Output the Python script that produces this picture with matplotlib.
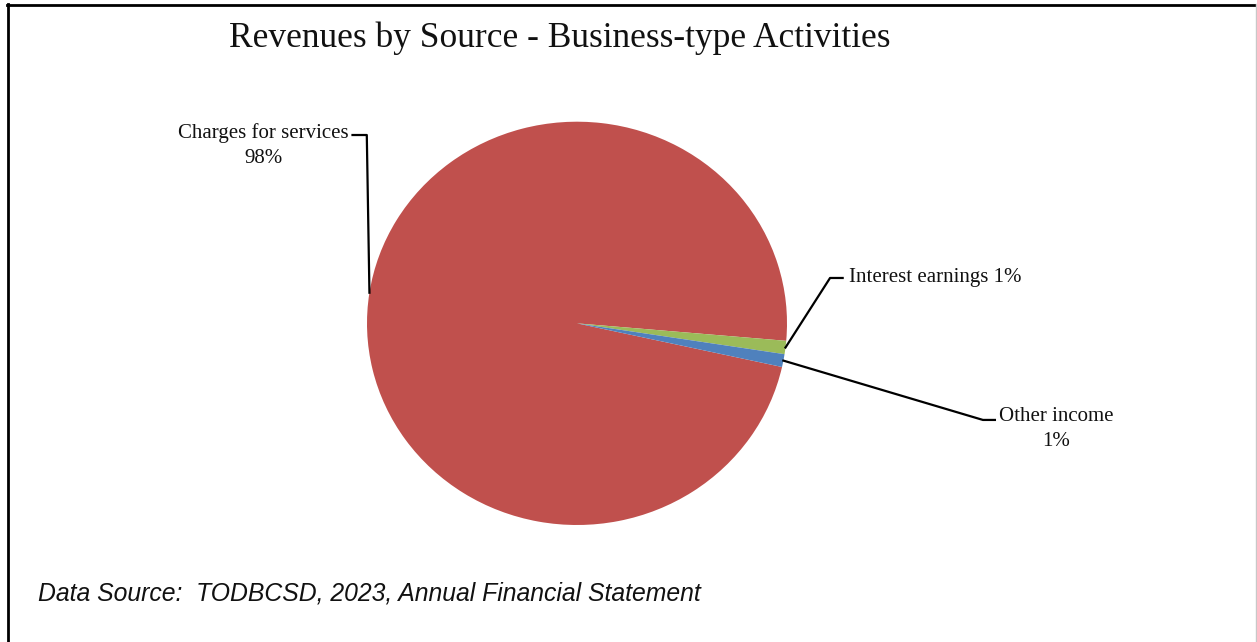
import numpy as np
import matplotlib
matplotlib.use("Agg")
import matplotlib.pyplot as plt
from matplotlib.lines import Line2D

# -----------------------------
# Data
# -----------------------------
categories = ["Charges for services", "Interest earnings", "Other income"]
shares = [97.91, 1.06, 1.03]
colors = ["#C0504D", "#9BBB59", "#4F81BD"]
label_texts = ["Charges for services\n98%", "Interest earnings 1%", "Other income\n1%"]

W, H = 1257, 642
fig = plt.figure(figsize=(W / 100, H / 100), dpi=100)
fig.patch.set_facecolor("white")

serif = ["Liberation Serif", "DejaVu Serif"]

# -----------------------------
# Pie (slightly squashed like the original)
# -----------------------------
ax = fig.add_axes([367 / W, 1 - 525 / H, 420 / W, 403.3 / H])
wedges, _ = ax.pie(shares, colors=colors, startangle=-12.5, counterclock=False,
                   wedgeprops=dict(linewidth=0, edgecolor="none"))
ax.set_aspect("auto")
ax.set_xlim(-1, 1)
ax.set_ylim(-1, 1)
ax.axis("off")

# leader line elbows / ends and text anchors (data coords)
elbows = [[(-1.069, 0.934), (-1.001, 0.934)],
          [(1.265, 0.225), (1.205, 0.225)],
          [(1.99, -0.479), (1.933, -0.479)]]
text_pos = [(-1.495, 0.882, "center"), (1.293, 0.228, "left"), (2.28, -0.525, "center")]

for w, pts, (tx, ty, ha), lab in zip(wedges, elbows, text_pos, label_texts):
    mid = np.deg2rad((w.theta1 + w.theta2) / 2)
    xs = [p[0] for p in pts] + [np.cos(mid)]
    ys = [p[1] for p in pts] + [np.sin(mid)]
    ax.plot(xs, ys, color="black", lw=1.6, clip_on=False)
    ax.text(tx, ty, lab, ha=ha, va="center", multialignment="center",
            fontsize=15, family=serif, linespacing=1.4, color="#111111")

# -----------------------------
# Title and source
# -----------------------------
fig.text(560 / W, 1 - 47 / H, "Revenues by Source - Business-type Activities",
         ha="center", va="baseline", fontsize=25.5, family=serif, color="#111111")
fig.text(38 / W, 1 - 601 / H, "Data Source:  TODBCSD, 2023, Annual Financial Statement",
         ha="left", va="baseline", fontsize=17.8, style="italic",
         family=["Liberation Sans", "DejaVu Sans"], color="#111111")

# frame around the picture
fig.add_artist(Line2D([7.5 / W, 7.5 / W], [0, 1 - 4 / H], color="black", lw=2))
fig.add_artist(Line2D([7 / W, 1], [1 - 4.5 / H, 1 - 4.5 / H], color="black", lw=2))
fig.add_artist(Line2D([1255.8 / W, 1255.8 / W], [0, 1 - 4 / H], color="#c8c8c8", lw=1))

fig.savefig("out.png", dpi=100)
